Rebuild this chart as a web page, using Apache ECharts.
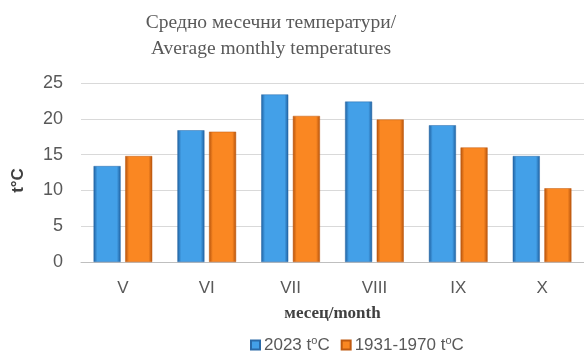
<!DOCTYPE html>
<html><head><meta charset="utf-8">
<script src="https://cdn.jsdelivr.net/npm/echarts@6/dist/echarts.min.js"></script>
<style>html,body{margin:0;padding:0;background:#fff}#c{width:584px;height:352px}</style>
</head><body><div id="c"></div>
<script>
const categories = ['V','VI','VII','VIII','IX','X'];
const series2023 = [13.4, 18.4, 23.4, 22.4, 19.1, 14.8];
const series1931 = [14.8, 18.2, 20.4, 19.9, 16.0, 10.3];
const yTicks = [0, 5, 10, 15, 20, 25];

function grad(dark, light){
  return new echarts.graphic.LinearGradient(0,0,1,0,[
    {offset:0,color:dark},{offset:0.14,color:light},{offset:0.5,color:light},{offset:0.86,color:light},{offset:1,color:dark}
  ]);
}
const chart = echarts.init(document.getElementById('c'), null, {renderer:'canvas'});
chart.setOption({
  animation:false,
  title:{
    text:'Средно месечни температури/\nAverage monthly temperatures',
    left:266, top:5, textAlign:'center',
    textStyle:{fontFamily:'Liberation Serif', fontSize:19.5, fontWeight:'normal', color:'#595959', lineHeight:26}
  },
  legend:{
    top:330, left:245, itemWidth:9, itemHeight:9, itemGap:11,
    icon:'rect',
    textStyle:{fontFamily:'Liberation Sans', fontSize:17, color:'#595959', padding:[0,0,0,-1],
      rich:{sup:{fontSize:11, verticalAlign:'top', padding:[0,0,9,0], color:'#595959', fontFamily:'Liberation Sans'}}},
    formatter:function(n){ return n.replace('t°C','t{sup|o}C'); }
  },
  grid:{left:81, right:0, top:83, bottom:90},
  xAxis:{
    type:'category', data:categories,
    name:'месец/month', nameLocation:'middle', nameGap:43,
    nameTextStyle:{fontFamily:'Liberation Serif', fontSize:17, fontWeight:'bold', color:'#404040'},
    axisLine:{lineStyle:{color:'#bfbfbf'}}, axisTick:{show:false},
    axisLabel:{fontFamily:'Liberation Sans', fontSize:17, color:'#595959', margin:18}
  },
  yAxis:{
    type:'value', min:yTicks[0], max:yTicks[yTicks.length-1], interval:5,
    name:'t°C', nameLocation:'middle', nameGap:54, nameRotate:90,
    nameTextStyle:{fontFamily:'Liberation Sans', fontSize:17, fontWeight:'bold', color:'#404040', padding:[0,16,0,0]},
    axisLine:{show:false}, axisTick:{show:false},
    axisLabel:{fontFamily:'Liberation Sans', fontSize:18, color:'#595959', margin:18},
    splitLine:{lineStyle:{color:'#d9d9d9'}}
  },
  series:[
    {name:'2023 t°C', type:'bar', data:series2023, barGap:'17%', barCategoryGap:'30%',
     itemStyle:{color:grad('#1f5f9e','#43a0e8'), borderColor:'#2a6aa8', borderWidth:0.5}},
    {name:'1931-1970 t°C', type:'bar', data:series1931,
     itemStyle:{color:grad('#b4520c','#fa8722'), borderColor:'#c05a10', borderWidth:0.5}}
  ]
});
</script></body></html>
